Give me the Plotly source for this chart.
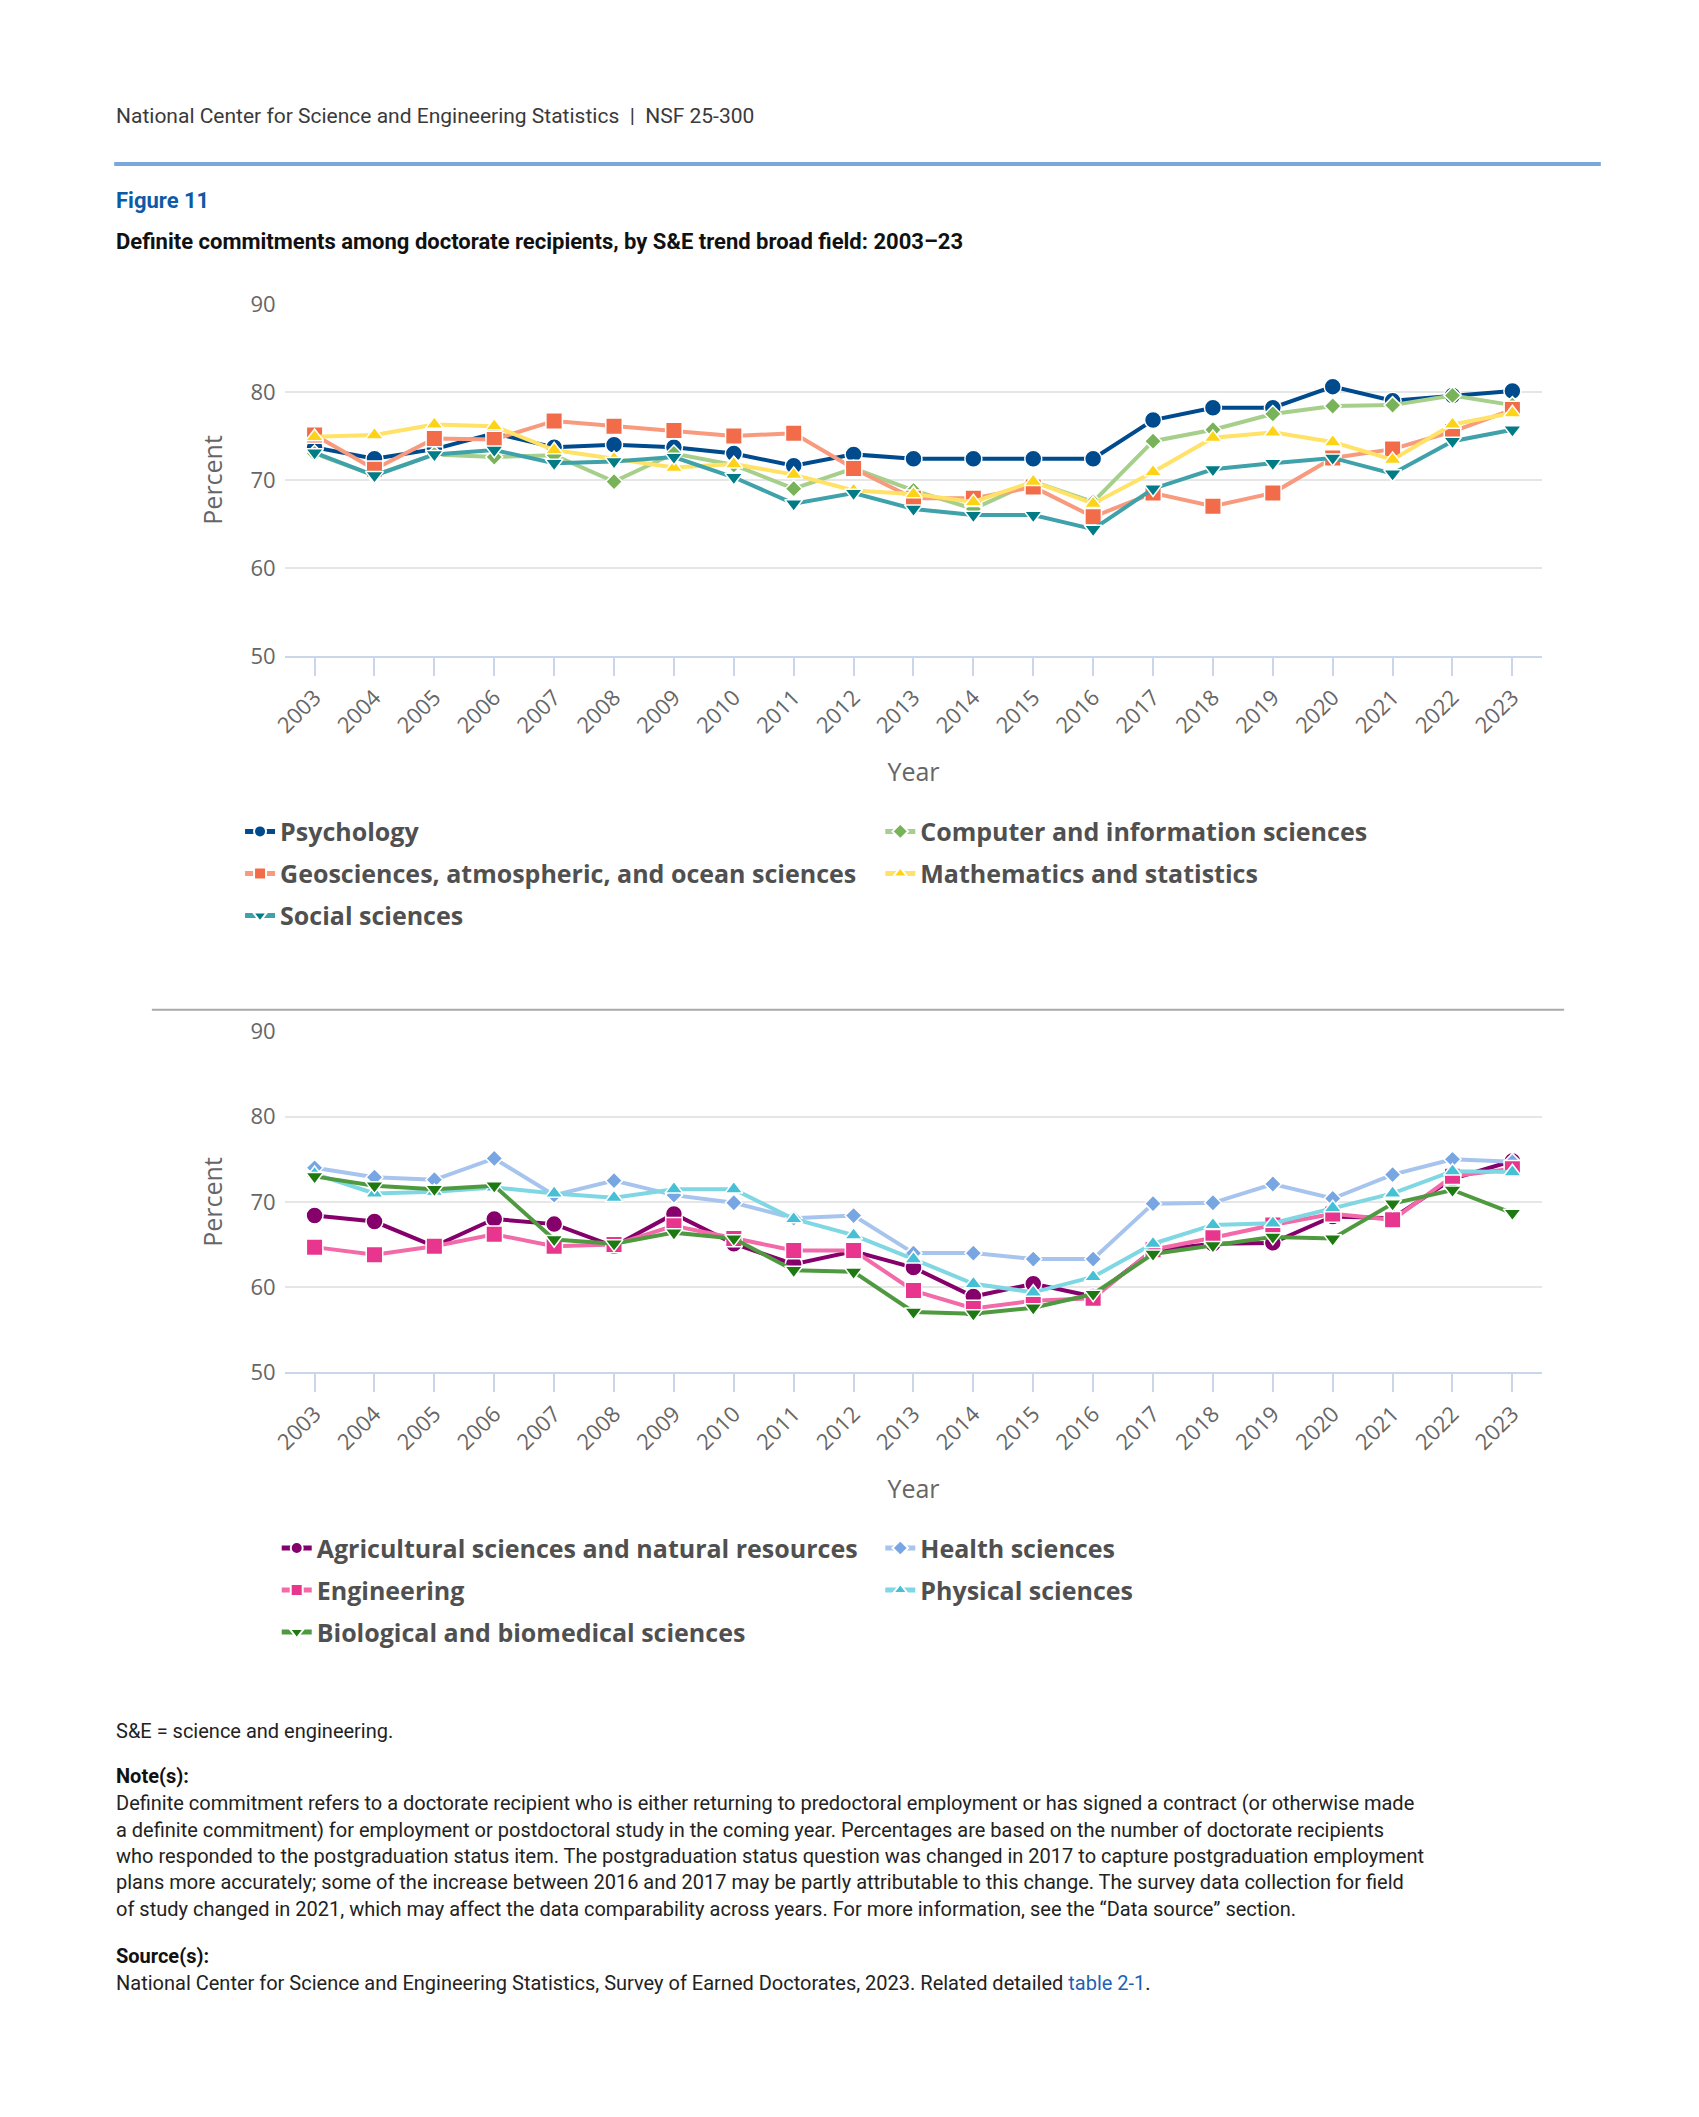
import plotly.graph_objects as go

# page body has an 8px default margin; size the figure so the page fits the window
PAGE_W, PAGE_H = 1699, 2117
OFF = 8
W, H = PAGE_W - 2 * OFF, PAGE_H - 2 * OFF

years = list(range(2003, 2024))
year_labels = [str(y) for y in years]

# Top chart series
psychology = [73.7, 72.4, 73.5, 75.3, 73.7, 74.0, 73.7, 73.0, 71.6, 72.9, 72.4, 72.4, 72.4, 72.4, 76.8, 78.2, 78.2, 80.6, 79.0, 79.6, 80.1]
computer = [73.0, 70.5, 72.9, 72.6, 72.8, 69.8, 73.0, 71.7, 69.0, 71.3, 68.8, 66.7, 69.8, 67.5, 74.4, 75.7, 77.5, 78.4, 78.5, 79.6, 78.5]
geosciences = [75.1, 71.2, 74.7, 74.6, 76.7, 76.1, 75.6, 75.0, 75.3, 71.3, 67.9, 67.9, 69.2, 65.8, 68.5, 67.0, 68.5, 72.5, 73.5, 75.5, 78.0]
mathematics = [74.9, 75.1, 76.3, 76.1, 73.4, 72.4, 71.4, 71.8, 70.6, 68.8, 68.4, 67.5, 69.8, 67.3, 70.9, 74.8, 75.4, 74.3, 72.3, 76.3, 77.6]
social = [73.1, 70.5, 72.9, 73.4, 71.9, 72.1, 72.6, 70.3, 67.3, 68.5, 66.7, 66.0, 66.0, 64.4, 69.0, 71.2, 71.9, 72.5, 70.7, 74.4, 75.7]

# Bottom chart series
agricultural = [68.4, 67.7, 64.8, 68.0, 67.4, 64.8, 68.6, 65.1, 62.7, 64.2, 62.3, 58.9, 60.4, 58.9, 64.3, 65.1, 65.2, 68.3, 68.1, 72.7, 74.8]
health = [74.0, 72.9, 72.6, 75.1, 70.8, 72.5, 70.8, 69.9, 68.1, 68.4, 64.0, 64.0, 63.3, 63.3, 69.8, 69.9, 72.1, 70.4, 73.2, 75.0, 74.7]
engineering = [64.7, 63.8, 64.8, 66.2, 64.8, 65.0, 67.2, 65.7, 64.3, 64.3, 59.6, 57.5, 58.4, 58.7, 64.4, 65.8, 67.3, 68.6, 67.9, 73.0, 73.9]
physical = [73.3, 71.0, 71.2, 71.7, 71.0, 70.5, 71.5, 71.5, 68.0, 66.1, 63.3, 60.4, 59.4, 61.2, 65.1, 67.3, 67.5, 69.3, 71.0, 73.6, 73.5]
biological = [73.0, 71.9, 71.5, 71.9, 65.6, 65.1, 66.4, 65.7, 62.0, 61.8, 57.1, 56.9, 57.6, 59.2, 63.9, 64.9, 65.9, 65.7, 69.8, 71.4, 68.7]

y_ticks = [50, 60, 70, 80, 90]

CHART_FONT = "Open Sans"
TEXT_FONT = "Roboto"

def px_x(x):
    return (x - OFF) / W

def px_y(y):
    return 1 - (y - OFF) / H

fig = go.Figure()

SIZES = {"circle": 17, "square": 16.5, "diamond": 13, "triangle-up": 15.5, "triangle-down": 15.5}

def add_series(name, ys, xa, ya, line_color, marker_color, symbol, legend, group):
    fig.add_trace(go.Scatter(
        x=years, y=ys, name=name, mode="lines+markers",
        xaxis=xa, yaxis=ya,
        line=dict(color=line_color, width=4),
        marker=dict(symbol=symbol, size=SIZES[symbol], color=marker_color,
                    line=dict(color="white", width=1.5)),
        legend=legend, legendgroup=group,
    ))

# top chart (draw order like original series order)
add_series("Psychology", psychology, "x", "y", "#004b8d", "#004b8d", "circle", "legend", "a")
add_series("Computer and information sciences", computer, "x", "y", "#a6cf8c", "#78b35a", "diamond", "legend2", "b")
add_series("Geosciences, atmospheric, and ocean sciences", geosciences, "x", "y", "#f79a7e", "#f26c4a", "square", "legend", "c")
add_series("Mathematics and statistics", mathematics, "x", "y", "#ffe266", "#fdd317", "triangle-up", "legend2", "d")
add_series("Social sciences", social, "x", "y", "#3fa1a9", "#007c87", "triangle-down", "legend", "e")

# bottom chart
add_series("Agricultural sciences and natural resources", agricultural, "x2", "y2", "#86006b", "#86006b", "circle", "legend3", "f")
add_series("Health sciences", health, "x2", "y2", "#a7c4ee", "#78a6e2", "diamond", "legend4", "g")
add_series("Engineering", engineering, "x2", "y2", "#f26aa8", "#e8368f", "square", "legend3", "h")
add_series("Physical sciences", physical, "x2", "y2", "#7fd7e3", "#45c0d4", "triangle-up", "legend4", "i")
add_series("Biological and biomedical sciences", biological, "x2", "y2", "#4f9a40", "#1d7a10", "triangle-down", "legend3", "j")

x_dom = [px_x(272), px_x(1541)]
tickfont = dict(family=CHART_FONT, size=22, color="#666666")
titlefont = dict(family=CHART_FONT, size=25, color="#666666")

def xaxis_cfg(anchor):
    return dict(
        domain=x_dom, anchor=anchor, range=[2002.5, 2023.5],
        tickmode="array", tickvals=years, ticktext=year_labels, tickangle=-45,
        showgrid=False, showline=True, linecolor="#ccd6eb", linewidth=2,
        ticks="outside", ticklen=18, tickwidth=2, tickcolor="#ccd6eb",
        tickfont=tickfont, zeroline=False,
        title=dict(text="Year", font=titlefont, standoff=26),
    )

def yaxis_cfg(anchor, dom):
    return dict(
        domain=dom, anchor=anchor, range=[50, 90],
        tickmode="array", tickvals=y_ticks,
        showgrid=True, gridcolor="#e6e6e6", gridwidth=2,
        showline=False, zeroline=False, ticks="", ticklabelstandoff=8,
        tickfont=tickfont,
        title=dict(text="Percent", font=titlefont, standoff=20),
    )

legend_font = dict(family=CHART_FONT, size=25, color="#505050", weight="bold")

def legend_cfg(x_text, y_first):
    return dict(
        x=px_x(x_text - 42), y=px_y(y_first - 21), xanchor="left", yanchor="top",
        orientation="v", font=legend_font, bgcolor="rgba(0,0,0,0)",
        tracegroupgap=6.5, itemsizing="constant", traceorder="grouped",
    )

annotations = []

def txt(x, y, text, size=20, color="#333333", bold=False, family=TEXT_FONT):
    annotations.append(dict(
        x=px_x(x), y=px_y(y), xref="paper", yref="paper", xanchor="left", yanchor="middle",
        text=text, showarrow=False,
        font=dict(family=family, size=size, color=color, weight="bold" if bold else "normal"),
    ))

txt(100, 101, "National Center for Science and Engineering Statistics  |  NSF 25-300", size=21, color="#3a3a3a")
txt(100, 187, "Figure 11", size=22, color="#0d5aa7", bold=True)
txt(100, 229, "Definite commitments among doctorate recipients, by S&amp;E trend broad field: 2003–23", size=22, color="#111111", bold=True)

txt(100, 1740, "S&amp;E = science and engineering.", size=20, color="#222222")
txt(100, 1785, "Note(s):", size=20, color="#111111", bold=True)
note_lines = [
    "Definite commitment refers to a doctorate recipient who is either returning to predoctoral employment or has signed a contract (or otherwise made",
    "a definite commitment) for employment or postdoctoral study in the coming year. Percentages are based on the number of doctorate recipients",
    "who responded to the postgraduation status item. The postgraduation status question was changed in 2017 to capture postgraduation employment",
    "plans more accurately; some of the increase between 2016 and 2017 may be partly attributable to this change. The survey data collection for field",
    "of study changed in 2021, which may affect the data comparability across years. For more information, see the “Data source” section.",
]
for i, line in enumerate(note_lines):
    txt(100, 1813 + i * 26.8, line, size=20, color="#222222")
txt(100, 1968, "Source(s):", size=20, color="#111111", bold=True)
txt(100, 1995, "National Center for Science and Engineering Statistics, Survey of Earned Doctorates, 2023. Related detailed "
    "<span style='color:#1f5fb4'>table 2-1</span>.", size=20, color="#222222")

shapes = [
    dict(type="rect", xref="paper", yref="paper", x0=px_x(100), x1=px_x(1600), y0=px_y(152), y1=px_y(148),
         fillcolor="#7aa7e0", line=dict(width=0)),
    dict(type="line", xref="paper", yref="paper", x0=px_x(138), x1=px_x(1563), y0=px_y(1008), y1=px_y(1008),
         line=dict(color="#aaaaaa", width=2)),
]

fig.update_layout(
    width=W, height=H, autosize=False,
    margin=dict(l=0, r=0, t=0, b=0),
    paper_bgcolor="white", plot_bgcolor="white",
    xaxis=xaxis_cfg("y"),
    yaxis=yaxis_cfg("x", [px_y(649), px_y(292)]),
    xaxis2=xaxis_cfg("y2"),
    yaxis2=yaxis_cfg("x2", [px_y(1376), px_y(1030)]),
    legend=legend_cfg(269, 825),
    legend2=legend_cfg(915, 825),
    legend3=legend_cfg(306, 1552),
    legend4=legend_cfg(915, 1552),
    annotations=annotations,
    shapes=shapes,
    showlegend=True,
)

fig.write_html("out.html")
